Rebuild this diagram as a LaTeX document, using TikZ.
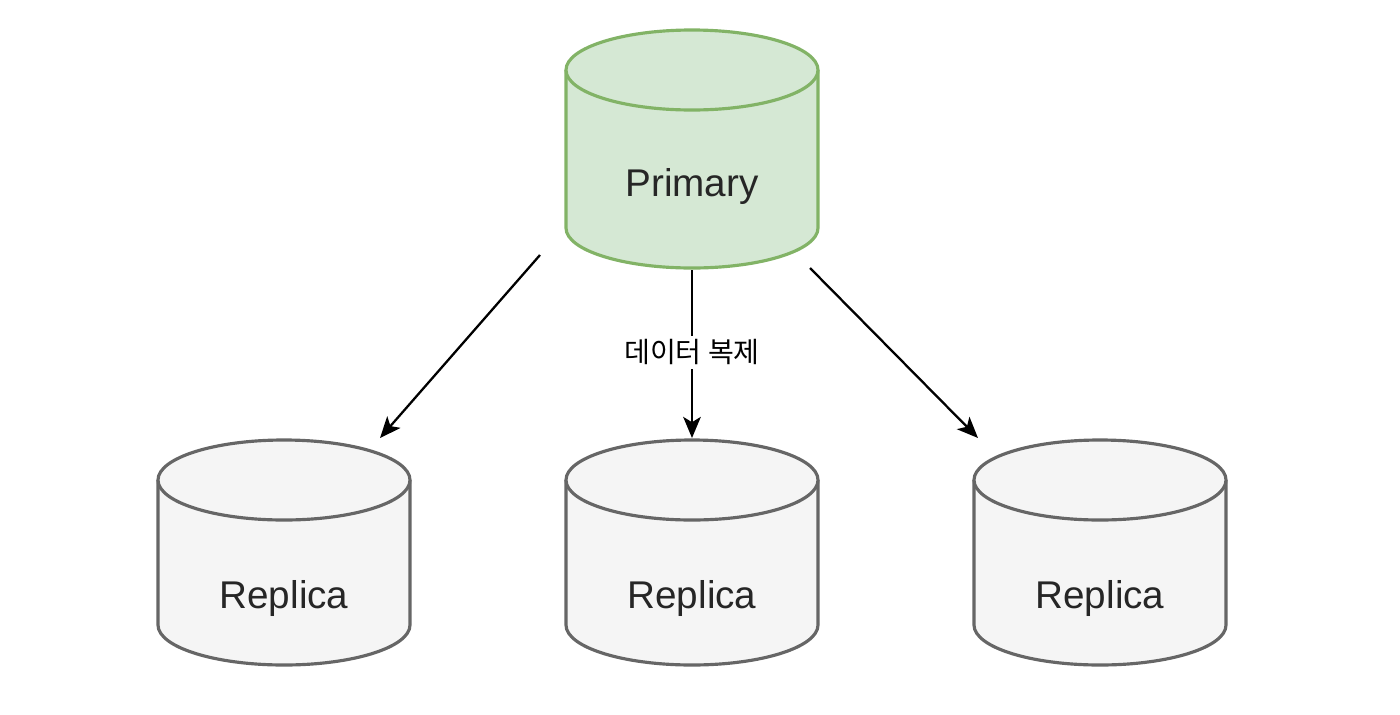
\documentclass[tikz,border=0pt]{standalone}
\usepackage{fontspec}
\setmainfont{Liberation Sans}
\newfontfamily\kofont{Noto Sans CJK KR}
\usetikzlibrary{arrows.meta}
\definecolor{primfill}{HTML}{D5E8D4}
\definecolor{primline}{HTML}{82B366}
\definecolor{repfill}{HTML}{F5F5F5}
\definecolor{repline}{HTML}{666666}
% cylinder: centre x, top y, bottom y, fill, line
\newcommand\dbcyl[5]{%
  \draw[line width=1.8pt,draw=#5,fill=#4] (#1-126,#2) -- (#1-126,#3)
    arc[start angle=180,end angle=0,x radius=126,y radius=40] -- (#1+126,#2);
  \draw[line width=1.8pt,draw=#5,fill=#4] (#1,#2) ellipse[x radius=126,y radius=40];
}
\begin{document}
\begin{tikzpicture}[x=0.02cm,y=-0.02cm,
  dbtext/.style={font=\fontsize{22}{26}\selectfont,text=black!85},
  link/.style={-{Stealth[length=12pt,width=10pt,inset=3pt]},line width=1.3pt}]
\useasboundingbox (0,0) rectangle (1400,714);
\dbcyl{692}{70}{228}{primfill}{primline}
\dbcyl{284}{480}{625}{repfill}{repline}
\dbcyl{692}{480}{625}{repfill}{repline}
\dbcyl{1100}{480}{625}{repfill}{repline}
\node (prim) [dbtext] at (692,187) {Primary};
\node (repA) [dbtext] at (284,598) {Replica};
\node (repB) [dbtext] at (692,598) {Replica};
\node (repC) [dbtext] at (1100,598) {Replica};
\coordinate (pa) at (540,255);
\coordinate (pb) at (692,270);
\coordinate (pc) at (810,268);
\coordinate (ra) at (380,438);
\coordinate (rb) at (692,438);
\coordinate (rc) at (978,438);
\draw [link] (pa) -- (ra);
\draw [link] (pb) -- (rb) node[pos=0.49,fill=white,inner sep=2pt,font=\kofont\fontsize{16}{20}\selectfont]{데이터 복제};
\draw [link] (pc) -- (rc);
\end{tikzpicture}
\end{document}
